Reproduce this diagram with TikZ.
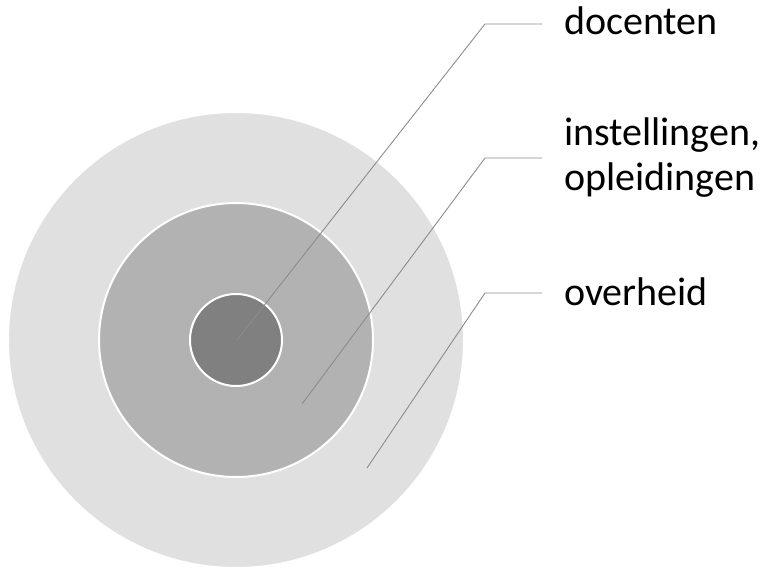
\documentclass[tikz,border=0pt]{standalone}
\usepackage{fontspec}
\setmainfont{Carlito}
\definecolor{ringouter}{HTML}{E0E0E0}
\definecolor{ringmid}{HTML}{B2B2B2}
\definecolor{ringinner}{HTML}{808080}
\definecolor{leader}{HTML}{8C8C8C}
\begin{document}
\begin{tikzpicture}[x=1pt,y=-1pt,
  ring/.style={circle,draw=white,line width=2pt,inner sep=0pt,minimum size=#1},
  label/.style={anchor=base west,inner sep=0pt,align=left,
    font=\fontsize{40}{45}\selectfont},
  leaderline/.style={draw=leader,line width=0.9pt}]
\useasboundingbox (0,0) rectangle (765,569);
% concentric rings
\node[ring=456pt,fill=ringouter] (outer) at (236,340) {};
\node[ring=274pt,fill=ringmid] (mid) at (236,340) {};
\node[ring=92pt,fill=ringinner] (inner) at (236,340) {};
% anchor points inside the rings
\coordinate (pA) at (237,340);
\coordinate (pB) at (302,404);
\coordinate (pC) at (367,468);
% elbows and ends of the leader lines
\coordinate (eA) at (485,24);
\coordinate (eB) at (485,158);
\coordinate (eC) at (485,293);
\coordinate (tA) at (542,24);
\coordinate (tB) at (542,158);
\coordinate (tC) at (542,293);
% labels
\node[label] (docenten) at (564,35) {docenten};
\node[label,anchor=west] (instellingen) at (564,158) {instellingen,\\opleidingen};
\node[label] (overheid) at (564,305) {overheid};
% leader lines
\draw[leaderline] (pA) -- (eA) -- (tA);
\draw[leaderline] (pB) -- (eB) -- (tB);
\draw[leaderline] (pC) -- (eC) -- (tC);
\end{tikzpicture}
\end{document}
